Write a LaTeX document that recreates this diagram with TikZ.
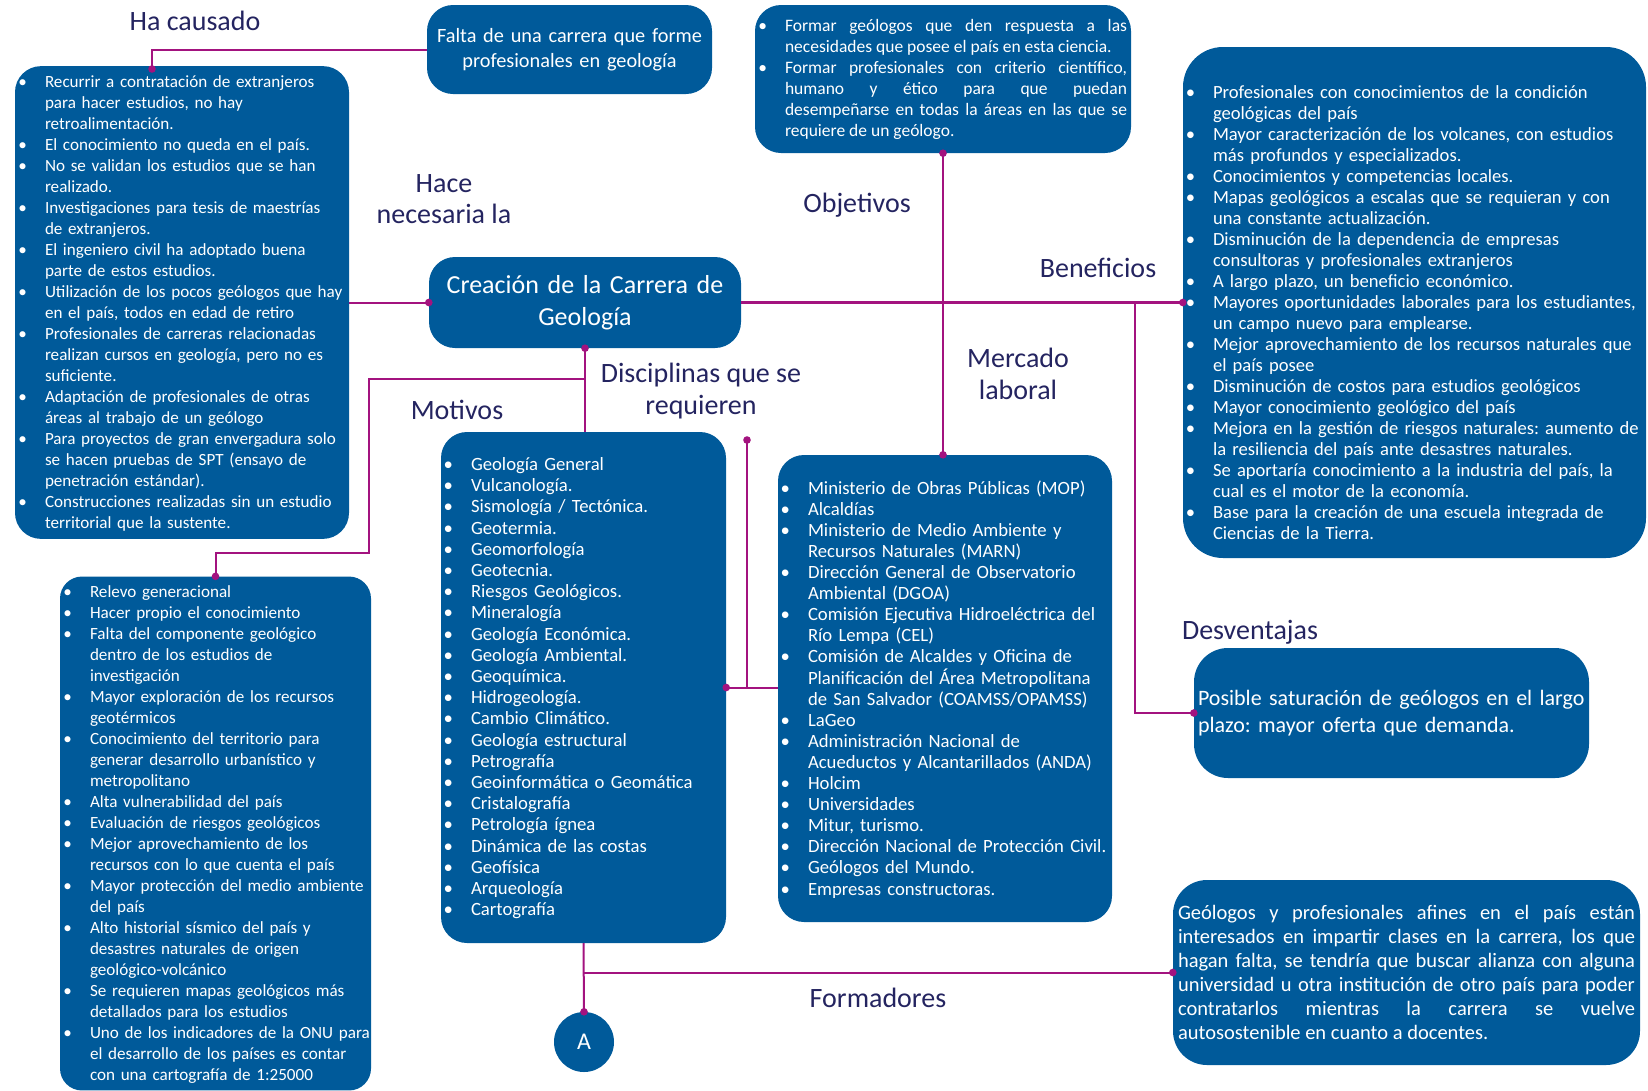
\documentclass[tikz,border=0pt]{standalone}
\usepackage{fontspec}
\setmainfont{Carlito}
\usepackage{enumitem}
\usetikzlibrary{positioning}

\definecolor{azulcaja}{RGB}{0,90,154}
\definecolor{lineamag}{RGB}{163,19,127}
\definecolor{tinta}{RGB}{36,36,96}

\newcommand{\listachica}{\fontsize{17.1}{21}\selectfont}
\newcommand{\listagrande}{\fontsize{18.7}{21.1}\selectfont}
\frenchspacing

\newlist{vinetas}{itemize}{1}
\setlist[vinetas]{label=\textbullet, nosep, labelindent=0pt, labelwidth=8pt, labelsep=18pt, leftmargin=26pt, rightmargin=-10pt}

\begin{document}
\begin{tikzpicture}[x=1pt, y=-1pt,
  caja/.style={fill=azulcaja, text=white, rounded corners=26pt, inner xsep=4pt, inner ysep=0pt, align=left},
  rotulo/.style={text=tinta, font=\fontsize{28}{31.5}\selectfont, align=center},
  enlace/.style={draw=lineamag, line width=2pt}]
\useasboundingbox (0,0) rectangle (1648,1090);

% cajas
\node[caja, text width=326pt, minimum width=334pt, minimum height=467pt, font=\listachica] (causas) at (182,302.5) {%
\begin{vinetas}
\item Recurrir a contratación de extranjeros\newline para hacer estudios, no hay\newline retroalimentación.
\item El conocimiento no queda en el país.
\item No se validan los estudios que se han\newline realizado.
\item Investigaciones para tesis de maestrías\newline de extranjeros.
\item El ingeniero civil ha adoptado buena\newline parte de estos estudios.
\item Utilización de los pocos geólogos que hay\newline en el país, todos en edad de retiro
\item Profesionales de carreras relacionadas\newline realizan cursos en geología, pero no es\newline suficiente.
\item Adaptación de profesionales de otras\newline áreas al trabajo de un geólogo
\item Para proyectos de gran envergadura solo\newline se hacen pruebas de SPT (ensayo de\newline penetración estándar).
\item Construcciones realizadas sin un estudio\newline territorial que la sustente.
\end{vinetas}\vspace*{8pt}};

\node[caja, align=center, text width=277pt, minimum width=285pt, minimum height=89pt, font=\fontsize{20.3}{25}\selectfont] (falta) at (569.5,49.5) {Falta de una carrera que forme\\ profesionales en geología};

\node[caja, align=justify, text width=368pt, minimum width=376pt, minimum height=148pt, font=\fontsize{17.5}{21}\selectfont] (objetivos) at (943,79) {\tolerance=10000
\begin{vinetas}[rightmargin=0pt]
\item Formar geólogos que den respuesta a las\linebreak necesidades que posee el país en esta ciencia.
\item Formar profesionales con criterio científico,\linebreak humano y ético para que puedan\linebreak desempeñarse en todas la áreas en las que se\linebreak requiere de un geólogo.
\end{vinetas}\vspace*{8pt}};

\node[caja, rounded corners=40pt, text width=455pt, minimum width=463pt, minimum height=511pt, font=\fontsize{18.6}{21}\selectfont] (beneficios) at (1414.5,302.5) {\vspace*{12pt}
\begin{vinetas}
\item Profesionales con conocimientos de la condición\newline geológicas del país
\item Mayor caracterización de los volcanes, con estudios\newline más profundos y especializados.
\item Conocimientos y competencias locales.
\item Mapas geológicos a escalas que se requieran y con\newline una constante actualización.
\item Disminución de la dependencia de empresas\newline consultoras y profesionales extranjeros
\item A largo plazo, un beneficio económico.
\item Mayores oportunidades laborales para los estudiantes,\newline un campo nuevo para emplearse.
\item Mejor aprovechamiento de los recursos naturales que\newline el país posee
\item Disminución de costos para estudios geológicos
\item Mayor conocimiento geológico del país
\item Mejora en la gestión de riesgos naturales: aumento de\newline la resiliencia del país ante desastres naturales.
\item Se aportaría conocimiento a la industria del país, la\newline cual es el motor de la economía.
\item Base para la creación de una escuela integrada de\newline Ciencias de la Tierra.
\end{vinetas}};

\node[caja, align=center, text width=304pt, minimum width=312pt, minimum height=91pt, font=\fontsize{26}{31.5}\selectfont] (creacion) at (585,302.5) {Creación de la Carrera de\\ Geología};

\node[caja, rounded corners=22pt, text width=303pt, minimum width=311pt, minimum height=509pt, font=\listachica] (motivos) at (215.5,833.5) {%
\begin{vinetas}
\item Relevo generacional
\item Hacer propio el conocimiento
\item Falta del componente geológico\newline dentro de los estudios de\newline investigación
\item Mayor exploración de los recursos\newline geotérmicos
\item Conocimiento del territorio para\newline generar desarrollo urbanístico y\newline metropolitano
\item Alta vulnerabilidad del país
\item Evaluación de riesgos geológicos
\item Mejor aprovechamiento de los\newline recursos con lo que cuenta el país
\item Mayor protección del medio ambiente\newline del país
\item Alto historial sísmico del país y\newline desastres naturales de origen\newline geológico-volcánico
\item Se requieren mapas geológicos más\newline detallados para los estudios
\item Uno de los indicadores de la ONU para\newline el desarrollo de los países es contar\newline con una cartografía de 1:25000
\end{vinetas}\vspace*{7pt}};

\node[caja, text width=277pt, minimum width=285pt, minimum height=511pt, font=\fontsize{18.7}{21.2}\selectfont] (disciplinas) at (583.5,687.5) {%
\begin{vinetas}
\item Geología General
\item Vulcanología.
\item Sismología / Tectónica.
\item Geotermia.
\item Geomorfología
\item Geotecnia.
\item Riesgos Geológicos.
\item Mineralogía
\item Geología Económica.
\item Geología Ambiental.
\item Geoquímica.
\item Hidrogeología.
\item Cambio Climático.
\item Geología estructural
\item Petrografía
\item Geoinformática o Geomática
\item Cristalografía
\item Petrología ígnea
\item Dinámica de las costas
\item Geofísica
\item Arqueología
\item Cartografía
\end{vinetas}\vspace*{7pt}};

\node[caja, text width=326pt, minimum width=334pt, minimum height=467pt, font=\listagrande] (mercado) at (945,688.5) {%
\begin{vinetas}
\item Ministerio de Obras Públicas (MOP)
\item Alcaldías
\item Ministerio de Medio Ambiente y\newline Recursos Naturales (MARN)
\item Dirección General de Observatorio\newline Ambiental (DGOA)
\item Comisión Ejecutiva Hidroeléctrica del\newline Río Lempa (CEL)
\item Comisión de Alcaldes y Oficina de\newline Planificación del Área Metropolitana\newline de San Salvador (COAMSS/OPAMSS)
\item LaGeo
\item Administración Nacional de\newline Acueductos y Alcantarillados (ANDA)
\item Holcim
\item Universidades
\item Mitur, turismo.
\item Dirección Nacional de Protección Civil.
\item Geólogos del Mundo.
\item Empresas constructoras.
\end{vinetas}\vspace*{6pt}};

\node[caja, rounded corners=34pt, text width=387pt, minimum width=395pt, minimum height=130pt, font=\fontsize{22}{26.5}\selectfont] (desventajas) at (1391.5,713) {Posible saturación de geólogos en el largo\\ plazo: mayor oferta que demanda.};

\node[caja, rounded corners=34pt, align=justify, inner xsep=5pt, text width=457pt, minimum width=467pt, minimum height=185pt, font=\fontsize{20.5}{24}\selectfont] (formadores) at (1406.5,972.5) {\tolerance=10000
Geólogos y profesionales afines en el país están\linebreak interesados en impartir clases en la carrera, los que\linebreak hagan falta, se tendría que buscar alianza con alguna\linebreak universidad u otra institución de otro país  para poder\linebreak contratarlos mientras la carrera se vuelve\linebreak autosostenible en cuanto a docentes.};

\node[circle, fill=azulcaja, text=white, minimum size=60pt, inner sep=0pt, font=\fontsize{24}{28}\selectfont] (letraA) at (584,1042) {A};

% rotulos
\node[rotulo] (haCausado) at (195,21) {Ha causado};
\node[rotulo] (haceNecesaria) at (444,199) {Hace\\necesaria la};
\node[rotulo] (rotObjetivos) at (857,205) {Objetivos};
\node[rotulo] (rotBeneficios) at (1098,268) {Beneficios};
\node[rotulo] (rotMercado) at (1018,374) {Mercado\\laboral};
\node[rotulo] (rotDisciplinas) at (701,391) {Disciplinas que se\\requieren};
\node[rotulo] (rotMotivos) at (457,410) {Motivos};
\node[rotulo] (rotDesventajas) at (1250,632) {Desventajas};
\node[rotulo] (rotFormadores) at (878,998) {Formadores};

% conectores
\coordinate (bajada) at (152,69);
\coordinate (ramal) at (1135,302.5);
\coordinate (codoA) at (584,379);
\coordinate (codoB) at (369,553);
\coordinate (espiga) at (747,440);
\coordinate (llegada) at (objetivos.south |- mercado.north);

\draw[enlace] (falta.west) -| (bajada);
\draw[enlace] (causas.east) -- (creacion.west);
\draw[enlace, line width=3.5pt] (creacion.east) -- (beneficios.west);
\draw[enlace] (objetivos.south) -- (llegada);
\draw[enlace] (ramal) |- (desventajas.west);
\draw[enlace] (creacion.south) -- (creacion.south |- disciplinas.north);
\draw[enlace] (codoA) -| (codoB) -| (motivos.north);
\draw[enlace] (disciplinas.east) -- (disciplinas.east -| mercado.west);
\draw[enlace] (espiga) -- (espiga |- disciplinas.east);
\draw[enlace] (disciplinas.south) -- (letraA.north);
\draw[enlace] (disciplinas.south |- formadores.west) -- (formadores.west);

\foreach \p in {bajada, creacion.west, beneficios.west, objetivos.south, llegada, desventajas.west, creacion.south, motivos.north, disciplinas.east, espiga, letraA.north, formadores.west}
  \fill[lineamag] (\p) circle (3.8pt);
\end{tikzpicture}
\end{document}
